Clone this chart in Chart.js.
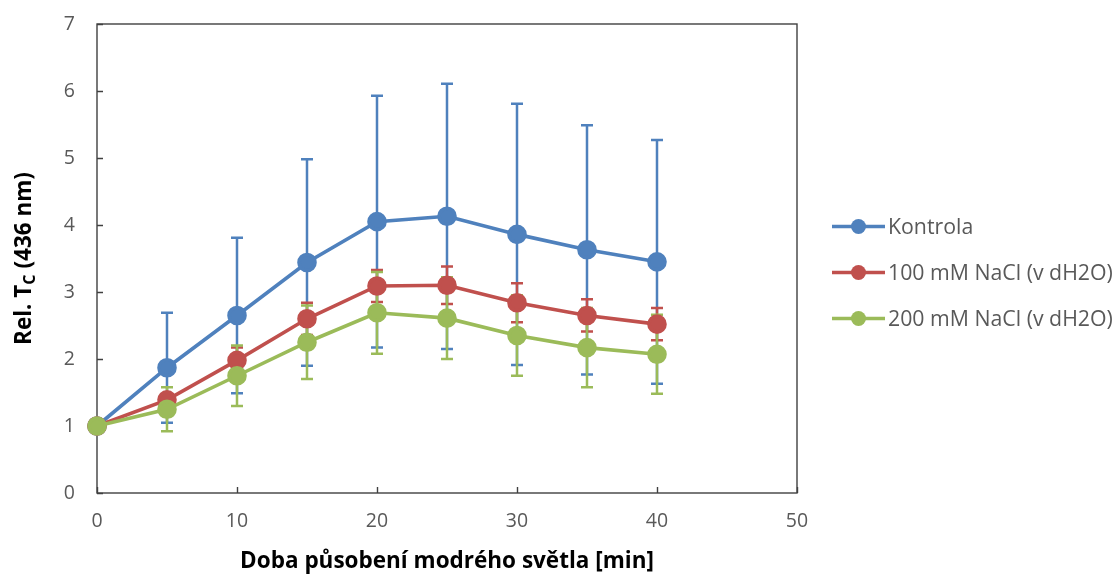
<!DOCTYPE html>
<html><head><meta charset="utf-8">
<script src="https://cdn.jsdelivr.net/npm/chart.js@4"></script>
<style>html,body{margin:0;padding:0;background:#fff}#wrap{width:1116px;height:576px;position:relative}</style>
</head><body><div id="wrap"><canvas id="c"></canvas></div>
<script>
// ---- data ----
const times = [0, 5, 10, 15, 20, 25, 30, 35, 40];
const seriesNames = ['Kontrola', '100 mM NaCl (v dH2O)', '200 mM NaCl (v dH2O)'];
const kontrola    = [1.00, 1.87, 2.65, 3.44, 4.05, 4.13, 3.86, 3.63, 3.45];
const kontrolaErr = [0.00, 0.82, 1.16, 1.54, 1.88, 1.98, 1.95, 1.86, 1.82];
const nacl100     = [1.00, 1.39, 1.98, 2.60, 3.09, 3.10, 2.84, 2.65, 2.52];
const nacl100Err  = [0.00, 0.07, 0.19, 0.24, 0.24, 0.28, 0.29, 0.24, 0.24];
const nacl200     = [1.00, 1.25, 1.75, 2.25, 2.69, 2.61, 2.35, 2.17, 2.07];
const nacl200Err  = [0.00, 0.33, 0.45, 0.55, 0.61, 0.61, 0.60, 0.59, 0.59];
const xTicks = [0, 10, 20, 30, 40, 50];
const yTicks = [0, 1, 2, 3, 4, 5, 6, 7];
const xTitle = 'Doba působení modrého světla [min]';
const yTitleParts = ['Rel. T', 'C', ' (436 nm)'];

const colors = ['#4F81BD', '#C0504D', '#9BBB59'];
const FONT = '"Open Sans", Lato, sans-serif';

function pts(vals) { return vals.map((v, i) => ({x: times[i], y: v})); }
const values = [kontrola, nacl100, nacl200];
const errs = [kontrolaErr, nacl100Err, nacl200Err];

const datasets = values.map((v, i) => ({
  label: seriesNames[i],
  data: pts(v),
  errors: errs[i],
  borderColor: colors[i],
  backgroundColor: colors[i],
  pointBackgroundColor: colors[i],
  pointBorderColor: colors[i],
  pointRadius: 8,
  pointHoverRadius: 8,
  borderWidth: 3.6,
  tension: 0,
  clip: false,
  order: 3 - i
}));

const framePlugin = {
  id: 'frame',
  beforeDatasetsDraw(chart) {
    const {ctx, chartArea: a, scales: {x, y}} = chart;
    ctx.save();
    ctx.strokeStyle = '#404040';
    ctx.lineWidth = 1.4;
    ctx.strokeRect(a.left, a.top, a.right - a.left, a.bottom - a.top);
    ctx.beginPath();
    yTicks.forEach(t => { const py = Math.round(y.getPixelForValue(t)) + 0.5; ctx.moveTo(a.left, py); ctx.lineTo(a.left + 6, py); });
    xTicks.forEach(t => { const px = Math.round(x.getPixelForValue(t)) + 0.5; ctx.moveTo(px, a.bottom); ctx.lineTo(px, a.bottom - 6); });
    ctx.stroke();
    ctx.restore();
  }
};

const errorBarPlugin = {
  id: 'errorBars',
  beforeDatasetsDraw(chart) {
    const {ctx, scales: {x, y}} = chart;
    chart.data.datasets.forEach(ds => {
      ctx.save();
      ctx.strokeStyle = ds.borderColor;
      ctx.lineWidth = 2.5;
      ctx.beginPath();
      ds.data.forEach((p, j) => {
        const e = ds.errors[j];
        if (!e) return;
        const px = x.getPixelForValue(p.x);
        const yt = y.getPixelForValue(p.y + e);
        const yb = y.getPixelForValue(p.y - e);
        ctx.moveTo(px, yt); ctx.lineTo(px, yb);
        ctx.moveTo(px - 6, yt); ctx.lineTo(px + 6, yt);
        ctx.moveTo(px - 6, yb); ctx.lineTo(px + 6, yb);
      });
      ctx.stroke();
      ctx.restore();
    });
  }
};

const titleLegendPlugin = {
  id: 'titleLegend',
  afterDraw(chart) {
    const {ctx, chartArea: a} = chart;
    // Y axis title with subscript
    ctx.save();
    const big = 'bold 22.5px ' + FONT, small = 'bold 16px ' + FONT;
    ctx.font = big; const w1 = ctx.measureText(yTitleParts[0]).width, w3 = ctx.measureText(yTitleParts[2]).width;
    ctx.font = small; const w2 = ctx.measureText(yTitleParts[1]).width;
    const total = w1 + w2 + w3;
    ctx.translate(25, (a.top + a.bottom) / 2);
    ctx.rotate(-Math.PI / 2);
    ctx.fillStyle = '#000';
    ctx.textBaseline = 'middle';
    ctx.textAlign = 'left';
    let cx = -total / 2;
    ctx.font = big; ctx.fillText(yTitleParts[0], cx, 0); cx += w1;
    ctx.font = small; ctx.fillText(yTitleParts[1], cx, 5); cx += w2;
    ctx.font = big; ctx.fillText(yTitleParts[2], cx, 0);
    ctx.restore();

    // Legend
    ctx.save();
    const lx = a.right + 35, ly0 = (a.top + a.bottom) / 2 - 32, gap = 46;
    chart.data.datasets.forEach((ds, i) => {
      const ly = ly0 + gap * i;
      ctx.strokeStyle = ds.borderColor; ctx.lineWidth = 3.6;
      ctx.beginPath(); ctx.moveTo(lx, ly); ctx.lineTo(lx + 53, ly); ctx.stroke();
      ctx.fillStyle = ds.borderColor;
      ctx.beginPath(); ctx.arc(lx + 26.5, ly, 7.5, 0, Math.PI * 2); ctx.fill();
      ctx.fillStyle = '#595959';
      ctx.font = '21.3px ' + FONT;
      ctx.textBaseline = 'middle';
      ctx.fillText(ds.label, lx + 56, ly + 1);
    });
    ctx.restore();
  }
};

new Chart(document.getElementById('c'), {
  type: 'line',
  data: {datasets},
  options: {
    responsive: true,
    maintainAspectRatio: false,
    animation: false,
    layout: {padding: {left: 0, right: 319, top: 24, bottom: 0}},
    plugins: {legend: {display: false}, tooltip: {enabled: false}},
    scales: {
      x: {
        type: 'linear', min: 0, max: 50,
        afterBuildTicks(s) { s.ticks = xTicks.map(v => ({value: v})); },
        afterFit(s) { s.height = 83; },
        grid: {display: false, drawTicks: false},
        border: {display: false},
        ticks: {color: '#595959', font: {family: FONT, size: 19.5}, padding: 17, maxRotation: 0},
        title: {display: true, text: xTitle, color: '#000', font: {family: FONT, size: 22.5, weight: 'bold'}, padding: {top: 0, bottom: 1}}
      },
      y: {
        type: 'linear', min: 0, max: 7,
        afterBuildTicks(s) { s.ticks = yTicks.map(v => ({value: v})); },
        afterFit(s) { s.width = 97; s.paddingTop = 0; s.paddingBottom = 0; },
        grid: {display: false, drawTicks: false},
        border: {display: false},
        ticks: {color: '#595959', font: {family: FONT, size: 19.5}, padding: 22}
      }
    }
  },
  plugins: [framePlugin, errorBarPlugin, titleLegendPlugin]
});
</script></body></html>
